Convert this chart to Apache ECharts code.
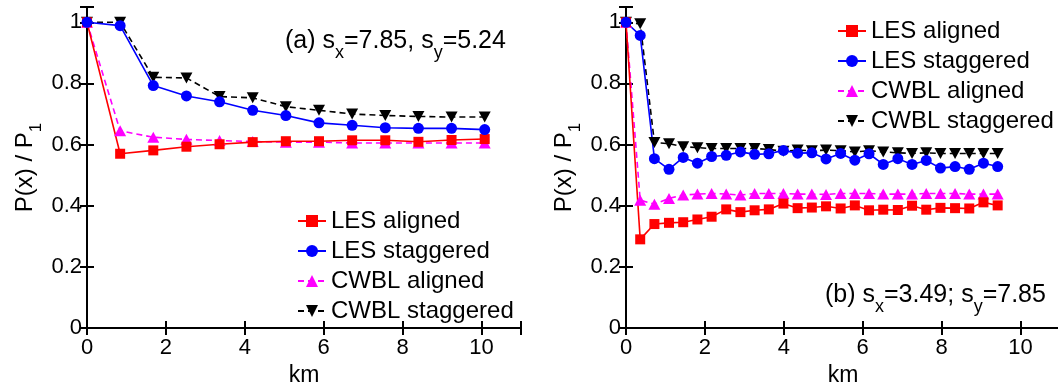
<!DOCTYPE html>
<html><head><meta charset="utf-8">
<script src="https://cdn.jsdelivr.net/npm/echarts@6/dist/echarts.min.js"></script>
<style>html,body{margin:0;padding:0;background:#fff}#c{width:1058px;height:384px}</style>
</head><body><div id="c"></div><script>
// ---- Panel (a): s_x=7.85, s_y=5.24 ----
const xA = [0, 0.84, 1.68, 2.52, 3.36, 4.2, 5.04, 5.88, 6.72, 7.56, 8.4, 9.24, 10.08];
const lesAlignedA = [1, 0.570, 0.581, 0.593, 0.601, 0.608, 0.611, 0.611, 0.614, 0.614, 0.609, 0.615, 0.618];
const lesStaggeredA = [1, 0.989, 0.793, 0.759, 0.740, 0.712, 0.695, 0.671, 0.663, 0.655, 0.653, 0.653, 0.649];
const cwblAlignedA = [1, 0.645, 0.624, 0.617, 0.613, 0.610, 0.608, 0.608, 0.605, 0.605, 0.605, 0.605, 0.605];
const cwblStaggeredA = [1, 1.0, 0.820, 0.818, 0.757, 0.753, 0.724, 0.712, 0.700, 0.695, 0.692, 0.690, 0.690];

// ---- Panel (b): s_x=3.49, s_y=7.85 ----
const xB = [0, 0.36, 0.72, 1.09, 1.45, 1.81, 2.17, 2.54, 2.90, 3.26, 3.62, 3.99, 4.35, 4.71,
            5.07, 5.44, 5.80, 6.16, 6.52, 6.89, 7.25, 7.61, 7.97, 8.34, 8.70, 9.06, 9.42];
const lesAlignedB = [1, 0.290, 0.340, 0.344, 0.346, 0.355, 0.364, 0.388, 0.379, 0.385, 0.388, 0.407, 0.392, 0.394,
                     0.398, 0.391, 0.401, 0.385, 0.387, 0.386, 0.400, 0.387, 0.393, 0.392, 0.391, 0.411, 0.401];
const lesStaggeredB = [1, 0.957, 0.554, 0.519, 0.558, 0.539, 0.561, 0.565, 0.576, 0.568, 0.570, 0.581, 0.572, 0.573,
                       0.553, 0.571, 0.549, 0.570, 0.535, 0.554, 0.535, 0.548, 0.523, 0.528, 0.519, 0.539, 0.528];
const cwblAlignedB = [1, 0.418, 0.405, 0.424, 0.435, 0.438, 0.440, 0.438, 0.435, 0.440, 0.440, 0.440, 0.438, 0.438,
                      0.437, 0.440, 0.440, 0.440, 0.438, 0.438, 0.438, 0.440, 0.440, 0.440, 0.438, 0.438, 0.438];
const cwblStaggeredB = [1, 0.995, 0.607, 0.603, 0.593, 0.590, 0.587, 0.587, 0.587, 0.587, 0.584, 0.578, 0.582, 0.580,
                        0.582, 0.580, 0.576, 0.580, 0.576, 0.573, 0.571, 0.573, 0.571, 0.571, 0.571, 0.571, 0.571];

const seriesNames = ['LES aligned', 'LES staggered', 'CWBL aligned', 'CWBL staggered'];
const xTickLabels = ['0', '2', '4', '6', '8', '10'];
const yTickLabels = ['0', '0.2', '0.4', '0.6', '0.8', '1'];
const annotA = ['(a) s', 'x', '=7.85, s', 'y', '=5.24'];
const annotB = ['(b) s', 'x', '=3.49; s', 'y', '=7.85'];

const FONT = '"Liberation Sans", Arial, Helvetica, sans-serif';
const look = {
  'LES aligned':    {color: '#ff0000', symbol: 'rect', size: 10, rot: 0, dash: 'solid'},
  'LES staggered':  {color: '#0000ff', symbol: 'circle', size: 11, rot: 0, dash: 'solid'},
  'CWBL aligned':   {color: '#ff00ff', symbol: 'triangle', size: [12, 11], rot: 0, dash: [6, 4]},
  'CWBL staggered': {color: '#000000', symbol: 'triangle', size: [12, 11], rot: 180, dash: [6, 4]}
};

function mk(name, xs, ys, axisIdx) {
  const l = look[name];
  return {
    name, type: 'line', xAxisIndex: axisIdx, yAxisIndex: axisIdx,
    data: xs.map((x, i) => [x, ys[i]]),
    symbol: l.symbol, symbolSize: l.size, symbolRotate: l.rot, showAllSymbol: true,
    clip: false, silent: true,
    lineStyle: {color: l.color, width: 1.6, type: l.dash},
    itemStyle: {color: l.color, borderWidth: 0}
  };
}

function makeRich(main, sub, pad) {
  return {
    m: {fontSize: main, lineHeight: main, fontFamily: FONT, color: '#000', verticalAlign: 'top'},
    s: {fontSize: sub, lineHeight: sub, fontFamily: FONT, color: '#000', verticalAlign: 'top', padding: [pad, 0, 0, 0]}
  };
}
function richStr(parts) {
  return parts.map((p, i) => (i % 2 === 0 ? '{m|' : '{s|') + p + '}').join('');
}

const axisLineStyle = {lineStyle: {color: '#000', width: 2}};
const tickStyle = {show: true, inside: true, length: 7, lineStyle: {color: '#000', width: 2}};

function xAxes(gi) {
  return [
    {type: 'value', gridIndex: gi, position: 'bottom', min: 0, max: 11, interval: 2,
     axisLine: axisLineStyle, axisTick: tickStyle, splitLine: {show: false},
     axisLabel: {fontSize: 22, fontFamily: FONT, color: '#000', margin: 9,
       formatter: v => { const i = xTickLabels.indexOf(String(v)); return i >= 0 ? xTickLabels[i] : ''; }},
     name: 'km', nameLocation: 'middle', nameGap: 31,
     nameTextStyle: {fontSize: 23, fontFamily: FONT, color: '#000'}},
    {type: 'value', gridIndex: gi, position: 'top', min: 0, max: 11, interval: 2,
     axisLine: axisLineStyle, axisTick: tickStyle, splitLine: {show: false}, axisLabel: {show: false}}
  ];
}
function yAxes(gi) {
  return [
    {type: 'value', gridIndex: gi, position: 'left', min: 0, max: 1.05, interval: 0.2,
     axisLine: axisLineStyle, axisTick: tickStyle, splitLine: {show: false},
     axisLabel: {fontSize: 22, fontFamily: FONT, color: '#000', margin: 5,
       formatter: v => { const k = Math.round(v / 0.2); return (Math.abs(v - k * 0.2) < 1e-6 && k <= 5) ? yTickLabels[k] : ''; }},
     name: richStr(['P(x) / P', '1']), nameLocation: 'middle', nameGap: 50, nameRotate: 90,
     nameTextStyle: {rich: makeRich(24, 17, 15)}},
    {type: 'value', gridIndex: gi, position: 'right', min: 0, max: 1.05, interval: 0.2,
     axisLine: axisLineStyle, axisTick: tickStyle, splitLine: {show: false}, axisLabel: {show: false}}
  ];
}

const legendBase = {
  orient: 'vertical', itemWidth: 28, itemHeight: 15, itemGap: 6, selectedMode: false,
  textStyle: {fontSize: 24, lineHeight: 24, fontFamily: FONT, color: '#000'},
  data: seriesNames
};

const order = ['CWBL staggered', 'CWBL aligned', 'LES aligned', 'LES staggered'];
const dataA = {'LES aligned': lesAlignedA, 'LES staggered': lesStaggeredA, 'CWBL aligned': cwblAlignedA, 'CWBL staggered': cwblStaggeredA};
const dataB = {'LES aligned': lesAlignedB, 'LES staggered': lesStaggeredB, 'CWBL aligned': cwblAlignedB, 'CWBL staggered': cwblStaggeredB};

const series = [];
order.forEach(n => series.push(mk(n, xA, dataA[n], 0)));
order.forEach(n => series.push(mk(n, xB, dataB[n], 2)));

const chart = echarts.init(document.getElementById('c'), null, {renderer: 'canvas'});
chart.setOption({
  animation: false,
  backgroundColor: '#fff',
  grid: [
    {left: 87, top: 7, width: 434, height: 321, containLabel: false, outerBoundsMode: 'none'},
    {left: 626, top: 7, width: 434, height: 321, containLabel: false, outerBoundsMode: 'none'}
  ],
  xAxis: [...xAxes(0), ...xAxes(1)],
  yAxis: [...yAxes(0), ...yAxes(1)],
  legend: [
    Object.assign({}, legendBase, {left: 292, top: 204}),
    Object.assign({}, legendBase, {left: 832, top: 14})
  ],
  graphic: [
    {type: 'text', left: 285, top: 29, silent: true, style: {text: richStr(annotA), rich: makeRich(25, 18, 15)}},
    {type: 'text', left: 825, top: 283, silent: true, style: {text: richStr(annotB), rich: makeRich(25, 18, 15)}}
  ],
  series
});
</script></body></html>
